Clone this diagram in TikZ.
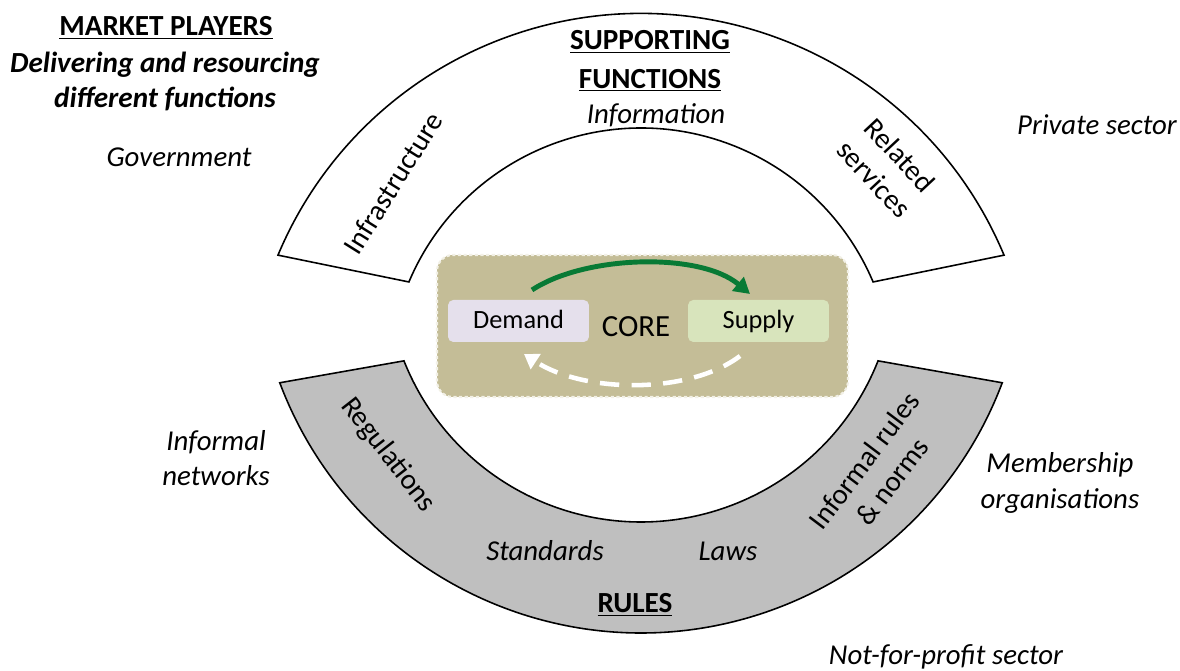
\documentclass[tikz,border=0pt]{standalone}
\usepackage{fontspec}
\setmainfont{Carlito}
\usetikzlibrary{arrows.meta}
\definecolor{bandgray}{HTML}{BFBFBF}
\definecolor{corefill}{HTML}{C4BD97}
\definecolor{coreline}{HTML}{F2F0E6}
\definecolor{demandfill}{HTML}{E5E0EC}
\definecolor{supplyfill}{HTML}{D8E4BC}
\definecolor{flowgreen}{HTML}{087A35}
\tikzset{
  band/.style={draw=black, line width=0.9pt},
  lbl/.style={font=\fontsize{16.4}{20}\selectfont\itshape, align=center, inner sep=0pt},
  upr/.style={font=\fontsize{16.4}{20}\selectfont, align=center, inner sep=0pt},
  ttl/.style={font=\fontsize{16.6}{20}\selectfont\bfseries, align=center, inner sep=0pt},
  sub/.style={font=\fontsize{16.6}{20}\selectfont\bfseries\itshape, align=center, inner sep=0pt},
  boxd/.style={rounded corners=3pt, minimum width=2.82cm, minimum height=0.84cm, inner sep=0pt,
    font=\fontsize{15}{18}\selectfont},
}
\begin{document}
\begin{tikzpicture}[x=0.02cm, y=-0.02cm]
\useasboundingbox (0,0) rectangle (1180,671);
% upper band (supporting functions)
\draw[band, fill=white] (641,407) ++(22.7:7.872cm) arc[start angle=22.7, end angle=157.3, radius=7.872cm]
  -- ([shift={(157.1:5.04cm)}]641,380) arc[start angle=157.1, end angle=22.9, radius=5.04cm] -- cycle;
% lower band (rules)
\draw[band, fill=bandgray] (641,247) ++(200.6:7.72cm) arc[start angle=200.6, end angle=339.4, radius=7.72cm]
  -- ([shift={(338.4:5.1cm)}]641,267) arc[start angle=338.4, end angle=201.6, radius=5.1cm] -- cycle;
% core
\node[fill=corefill, draw=coreline, line width=1.2pt, dash pattern=on 1.8pt off 1.4pt, rounded corners=9pt,
  minimum width=8.22cm, minimum height=2.84cm, inner sep=0pt] (core) at (642.5,326) {};
\node[boxd, fill=demandfill] (demand) at (518.5,321) {\vphantom{Dy}Demand};
\node[boxd, fill=supplyfill] (supply) at (758.5,321) {\vphantom{Dy}Supply};
\node[font=\fontsize{17.5}{20}\selectfont, inner sep=0pt] (corelbl) at (636,327) {CORE};
\coordinate (g1) at (532,290);
\coordinate (g2) at (750,294);
\coordinate (w1) at (740,356);
\coordinate (w2) at (524,354);
\draw[flowgreen, line width=2.8pt, -{Triangle[length=9pt, width=10pt]}] (g1) .. controls (585,255) and (700,252) .. (g2);
\draw[white, line width=2.6pt, dash pattern=on 11pt off 7pt, -{Triangle[length=8pt, width=10pt]}] (w1) .. controls (690,394) and (585,394) .. (w2);
% titles
\node[ttl] (mp) at (166,28) {\underline{MARKET PLAYERS}};
\node[sub] (mp1) at (165,65) {Delivering and resourcing};
\node[sub] (mp2) at (165,99) {different functions};
\node[ttl] (sf) at (650,61) {\underline{SUPPORTING}\\[2pt]\underline{FUNCTIONS}};
\node[ttl] (ru) at (635,605) {\underline{RULES}};
% labels
\node[lbl] (gov) at (179,157) {Government};
\node[lbl] (info) at (656,115) {Information};
\node[lbl] (priv) at (1097,125) {Private sector};
\node[lbl] (infnet) at (216,458) {Informal\\networks};
\node[lbl] (memb) at (1060,483) {Membership\\organisations};
\node[lbl] (nfp) at (946,657) {Not-for-profit sector};
\node[lbl] (std) at (545,551) {Standards};
\node[lbl] (laws) at (728,551) {Laws};
\node[upr, rotate=58] (infra) at (393,183) {Infrastructure};
\node[upr, rotate=-47] (rel) at (887,167) {Related\\services};
\node[upr, rotate=-52] (reg) at (388,455) {Regulations};
\node[upr, rotate=53] (irn) at (878,471) {Informal rules\\\& norms};
\end{tikzpicture}
\end{document}
